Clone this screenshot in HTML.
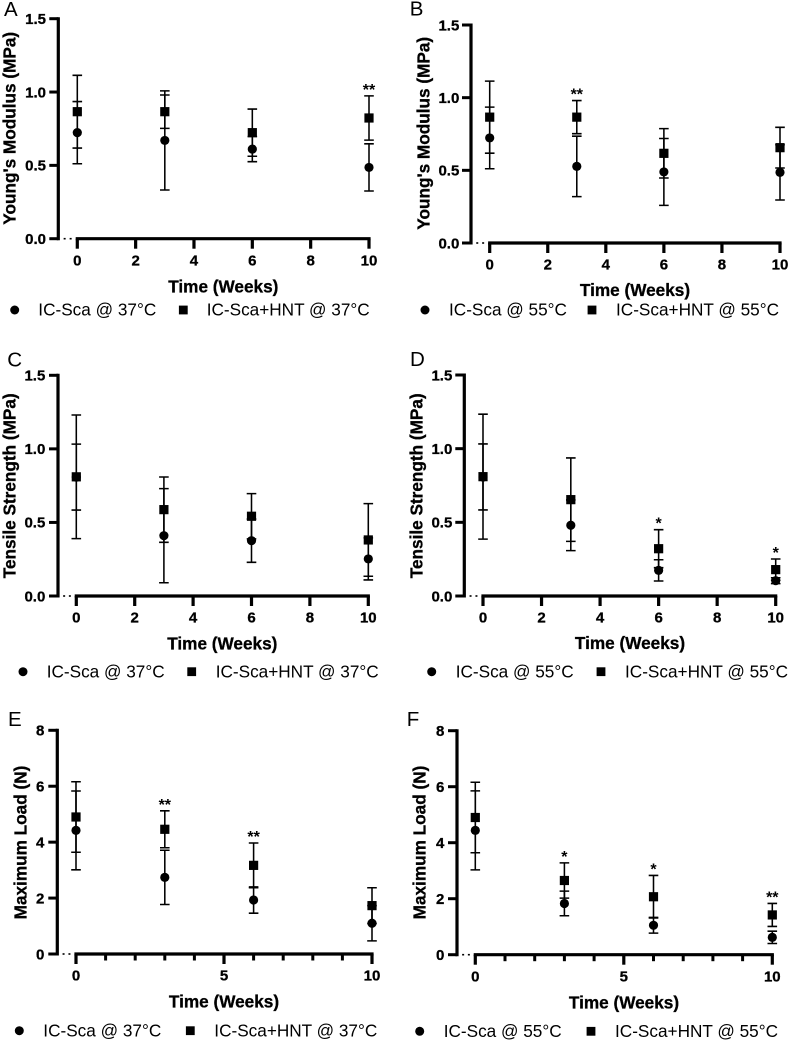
<!DOCTYPE html>
<html lang="en">
<head>
<meta charset="utf-8">
<title>Mechanical properties over time</title>
<style>
html,body{margin:0;padding:0;background:#fff;width:790px;height:1043px;overflow:hidden}
svg{display:block}
text{font-family:"Liberation Sans",sans-serif;fill:#000}
.t{font-size:17.2px;font-weight:bold;text-anchor:middle;stroke:#000;stroke-width:.3px}
.l{font-size:17.2px}
.p{font-size:20.5px}
.tick{font-size:15px;font-weight:bold;stroke:#000;stroke-width:.3px}
.star{font-size:16px;font-weight:bold;text-anchor:middle}
</style>
</head>
<body>
<svg id="fig" xmlns="http://www.w3.org/2000/svg" width="790" height="1043" viewBox="0 0 790 1043">
  <g id="panel-a">
    <text class="p" x="4" y="16">A</text>
    <text class="t" transform="translate(15.7 128.3) rotate(-90)">Young's Modulus (MPa)</text>
    <text class="t" x="223.3" y="292.3">Time (Weeks)</text>
    <circle cx="14.7" cy="310" r="4.5"/>
    <text class="l" x="38.3" y="315.7">IC-Sca @ 37°C</text>
    <rect x="178.9" y="305.6" width="8.8" height="8.8"/>
    <text class="l" x="206.7" y="315.7">IC-Sca+HNT @ 37°C</text>
  </g>
  <g id="panel-b">
    <text class="p" x="409.7" y="15.5">B</text>
    <text class="t" transform="translate(429.3 133.3) rotate(-90)">Young's Modulus (MPa)</text>
    <text class="t" x="635" y="296">Time (Weeks)</text>
    <circle cx="425" cy="310" r="4.5"/>
    <text class="l" x="449" y="315.7">IC-Sca @ 55°C</text>
    <rect x="587.6" y="305.6" width="8.8" height="8.8"/>
    <text class="l" x="616" y="315.7">IC-Sca+HNT @ 55°C</text>
  </g>
  <g id="panel-c">
    <text class="p" x="7.3" y="366.7">C</text>
    <text class="t" transform="translate(15.7 485.8) rotate(-90)">Tensile Strength (MPa)</text>
    <text class="t" x="222.3" y="649.3">Time (Weeks)</text>
    <circle cx="23" cy="671.7" r="4.5"/>
    <text class="l" x="46.7" y="677.3">IC-Sca @ 37°C</text>
    <rect x="187.3" y="667.3" width="8.8" height="8.8"/>
    <text class="l" x="215.7" y="677.3">IC-Sca+HNT @ 37°C</text>
  </g>
  <g id="panel-d">
    <text class="p" x="410" y="366">D</text>
    <text class="t" transform="translate(422.7 485.8) rotate(-90)">Tensile Strength (MPa)</text>
    <text class="t" x="630" y="649">Time (Weeks)</text>
    <circle cx="431.7" cy="671.7" r="4.5"/>
    <text class="l" x="455.7" y="677.3">IC-Sca @ 55°C</text>
    <rect x="596.6" y="667.3" width="8.8" height="8.8"/>
    <text class="l" x="625" y="677.3">IC-Sca+HNT @ 55°C</text>
  </g>
  <g id="panel-e">
    <text class="p" x="8" y="726">E</text>
    <text class="t" transform="translate(26.7 842.5) rotate(-90)">Maximum Load (N)</text>
    <text class="t" x="224" y="1007.7">Time (Weeks)</text>
    <circle cx="19.3" cy="1030.7" r="4.5"/>
    <text class="l" x="43.3" y="1036.3">IC-Sca @ 37°C</text>
    <rect x="185.9" y="1026.3" width="8.8" height="8.8"/>
    <text class="l" x="214.3" y="1036.3">IC-Sca+HNT @ 37°C</text>
  </g>
  <g id="panel-f">
    <text class="p" x="406.7" y="726">F</text>
    <text class="t" transform="translate(425.7 842.5) rotate(-90)">Maximum Load (N)</text>
    <text class="t" x="624" y="1008.3">Time (Weeks)</text>
    <circle cx="419.7" cy="1031.3" r="4.5"/>
    <text class="l" x="443.7" y="1036.9">IC-Sca @ 55°C</text>
    <rect x="586.6" y="1026.9" width="8.8" height="8.8"/>
    <text class="l" x="615" y="1036.9">IC-Sca+HNT @ 55°C</text>
  </g>
</svg>
<script>
// Categories and tick labels
const weeks = [0, 3, 6, 10];
const xTicksEven = [0, 2, 4, 6, 8, 10];
const xTicksFive = [0, 5, 10];
const xMinorOnes = [1, 2, 3, 4, 6, 7, 8, 9];
const yTicksMPa = ['0.0', '0.5', '1.0', '1.5'];
const yTicksLoad = ['0', '2', '4', '6', '8'];

// Panel A: Young's modulus, 37 C
const aCircleMean = [0.723, 0.670, 0.611, 0.486];
const aCircleErr = [0.212, 0.338, 0.086, 0.161];
const aSquareMean = [0.866, 0.866, 0.723, 0.823];
const aSquareErr = [0.248, 0.114, 0.161, 0.151];
const aStars = ['', '', '', '**'];

// Panel B: Young's modulus, 55 C
const bCircleMean = [0.723, 0.527, 0.489, 0.486];
const bCircleErr = [0.212, 0.208, 0.230, 0.190];
const bSquareMean = [0.866, 0.866, 0.617, 0.656];
const bSquareErr = [0.248, 0.114, 0.170, 0.140];
const bStars = ['', '**', '', ''];

// Panel C: tensile strength, 37 C
const cCircleMean = [0.808, 0.410, 0.376, 0.252];
const cCircleErr = [0.224, 0.320, 0.147, 0.143];
const cSquareMean = [0.810, 0.587, 0.542, 0.381];
const cSquareErr = [0.420, 0.222, 0.154, 0.247];
const cStars = ['', '', '', ''];

// Panel D: tensile strength, 55 C
const dCircleMean = [0.808, 0.480, 0.174, 0.104];
const dCircleErr = [0.224, 0.172, 0.072, 0.020];
const dSquareMean = [0.810, 0.654, 0.321, 0.179];
const dSquareErr = [0.424, 0.283, 0.129, 0.072];
const dStars = ['', '', '*', '*'];

// Panel E: maximum load, 37 C
const eCircleMean = [4.42, 2.74, 1.93, 1.10];
const eCircleErr = [1.41, 0.97, 0.47, 0.63];
const eSquareMean = [4.90, 4.46, 3.17, 1.73];
const eSquareErr = [1.26, 0.66, 0.80, 0.64];
const eStars = ['', '**', '**', ''];

// Panel F: maximum load, 55 C
const fCircleMean = [4.44, 1.83, 1.05, 0.62];
const fCircleErr = [1.41, 0.44, 0.28, 0.22];
const fSquareMean = [4.90, 2.65, 2.07, 1.42];
const fSquareErr = [1.26, 0.63, 0.76, 0.41];
const fStars = ['', '*', '*', '**'];

const NS = 'http://www.w3.org/2000/svg';
function mk(parent, tag, attrs) {
  const el = document.createElementNS(NS, tag);
  for (const k in attrs) el.setAttribute(k, attrs[k]);
  parent.appendChild(el);
  return el;
}

function drawPanel(p) {
  const g = document.getElementById('panel-' + p.id);
  const sx = v => p.x0 + (v / 10) * (p.x10 - p.x0);
  const yTickVals = p.yLabels.map(Number);
  const yMax = yTickVals[yTickVals.length - 1];
  const sy = v => p.y0 - (v / yMax) * (p.y0 - p.yTop);

  // Axes
  const yAxis = mk(g, 'line', {x1: p.axisX, x2: p.axisX, y1: p.yTop - 1.5, y2: p.y0 + 1.5, stroke: '#000', 'stroke-width': 3.2});
  
  
  const xAxis = mk(g, 'line', {x1: p.x0 - 1.6, x2: p.x10 + 1.6, y1: p.y0, y2: p.y0, stroke: '#000', 'stroke-width': 3.2});
  
  

  // Axis break dots between the two axis lines
  [0.3, 0.68].forEach(f => {
    const dot = mk(g, 'rect', {x: p.axisX + 1.6 + f * (p.x0 - p.axisX - 3.2) - 1, y: p.y0 - 0.8, width: 2, height: 1.6, fill: '#000'});
    
    
  });

  // Y ticks
  p.yLabels.forEach((lab, i) => {
    const y = sy(yTickVals[i]);
    const t = mk(g, 'line', {x1: p.axisX - 9, x2: p.axisX, y1: y, y2: y, stroke: '#000', 'stroke-width': 3});
    
    
    const tx = mk(g, 'text', {x: p.yLabelX, y: y + 5.3, 'text-anchor': 'end', class: 'tick'});
    
    
    tx.textContent = lab;
  });

  // X ticks
  p.xLabels.forEach(v => {
    const x = sx(v);
    const t = mk(g, 'line', {x1: x, x2: x, y1: p.y0, y2: p.y0 + 10, stroke: '#000', 'stroke-width': 3.2});
    
    
    const tx = mk(g, 'text', {x: x, y: p.xLabelY, 'text-anchor': 'middle', class: 'tick'});
    
    
    tx.textContent = String(v);
  });
  (p.xMinor || []).forEach(v => {
    const x = sx(v);
    const t = mk(g, 'line', {x1: x, x2: x, y1: p.y0, y2: p.y0 + 6.5, stroke: '#000', 'stroke-width': 3});
    
    
  });

  // Series: error bars first, then markers; squares on top of circles
  function errorBars(means, errs, seriesName) {
    weeks.forEach((w, i) => {
      const x = sx(w);
      const hi = sy(means[i] + errs[i]);
      const lo = sy(means[i] - errs[i]);
      const b = mk(g, 'path', {
        d: 'M' + x + ' ' + hi + 'V' + lo + 'M' + (x - 4.8) + ' ' + hi + 'H' + (x + 4.8) + 'M' + (x - 4.8) + ' ' + lo + 'H' + (x + 4.8),
        stroke: '#000', 'stroke-width': 1.55, fill: 'none'
      });
      
      
    });
  }
  errorBars(p.cm, p.ce, 'ic-sca');
  errorBars(p.sm, p.se, 'ic-sca-hnt');

  weeks.forEach((w, i) => {
    const c = mk(g, 'circle', {cx: sx(w), cy: sy(p.cm[i]), r: 4.6, fill: '#000'});
    
    
  });
  weeks.forEach((w, i) => {
    const s = mk(g, 'rect', {x: sx(w) - 4.6, y: sy(p.sm[i]) - 4.6, width: 9.2, height: 9.2, fill: '#000'});
    
    
  });

  // Significance stars sit just above the higher error cap
  weeks.forEach((w, i) => {
    if (!p.stars[i]) return;
    const top = Math.min(sy(p.cm[i] + p.ce[i]), sy(p.sm[i] + p.se[i]));
    const st = mk(g, 'text', {x: sx(w), y: top - 1, class: 'star'});
    
    
    st.textContent = p.stars[i];
  });
}

drawPanel({id: 'a', axisX: 58.3, y0: 238.7, yTop: 18.7, x0: 77.3, x10: 369, yLabelX: 46, xLabelY: 265.7,
  yLabels: yTicksMPa, xLabels: xTicksEven, cm: aCircleMean, ce: aCircleErr, sm: aSquareMean, se: aSquareErr, stars: aStars});
drawPanel({id: 'b', axisX: 471, y0: 243, yTop: 25, x0: 489.7, x10: 780, yLabelX: 459.3, xLabelY: 269.3,
  yLabels: yTicksMPa, xLabels: xTicksEven, cm: bCircleMean, ce: bCircleErr, sm: bSquareMean, se: bSquareErr, stars: bStars});
drawPanel({id: 'c', axisX: 58, y0: 596, yTop: 375.3, x0: 76.3, x10: 368.3, yLabelX: 45.3, xLabelY: 622.7,
  yLabels: yTicksMPa, xLabels: xTicksEven, cm: cCircleMean, ce: cCircleErr, sm: cSquareMean, se: cSquareErr, stars: cStars});
drawPanel({id: 'd', axisX: 464.3, y0: 596, yTop: 375, x0: 483, x10: 775.7, yLabelX: 452.3, xLabelY: 622.7,
  yLabels: yTicksMPa, xLabels: xTicksEven, cm: dCircleMean, ce: dCircleErr, sm: dSquareMean, se: dSquareErr, stars: dStars});
drawPanel({id: 'e', axisX: 57.3, y0: 954, yTop: 730.3, x0: 76, x10: 372, yLabelX: 44.3, xLabelY: 980.7,
  yLabels: yTicksLoad, xLabels: xTicksFive, xMinor: xMinorOnes, cm: eCircleMean, ce: eCircleErr, sm: eSquareMean, se: eSquareErr, stars: eStars});
drawPanel({id: 'f', axisX: 457, y0: 954.7, yTop: 730.7, x0: 475.3, x10: 772.3, yLabelX: 444.3, xLabelY: 981.7,
  yLabels: yTicksLoad, xLabels: xTicksFive, xMinor: xMinorOnes, cm: fCircleMean, ce: fCircleErr, sm: fSquareMean, se: fSquareErr, stars: fStars});
</script>
</body>
</html>
